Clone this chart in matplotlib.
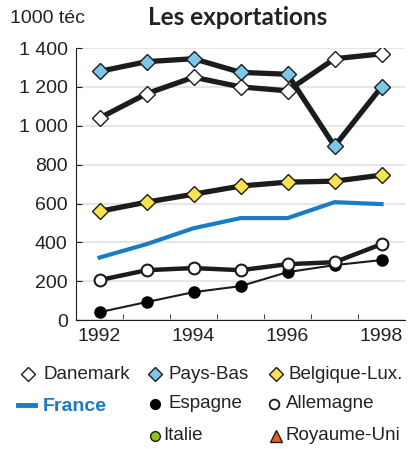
import matplotlib.pyplot as plt
from matplotlib.lines import Line2D

plt.rcParams['font.family'] = ['Liberation Sans', 'DejaVu Sans']

years = ["1992", "1993", "1994", "1995", "1996", "1997", "1998"]
danemark = [1040, 1165, 1250, 1200, 1180, 1345, 1370]
pays_bas = [1280, 1330, 1345, 1275, 1265, 895, 1200]
belgique = [560, 607, 648, 690, 710, 715, 746]
france = [322, 391, 473, 525, 525, 607, 597]
espagne = [41, 93, 144, 175, 247, 283, 309]
allemagne = [206, 257, 268, 257, 288, 298, 391]

dark = "#1c1c1c"
txt = "#222222"
blue = "#1a7cc4"

fig = plt.figure(figsize=(4.18, 4.49), dpi=100)
ax = fig.add_axes([0.182, 0.287, 0.787, 0.606])

x = range(len(years))
ax.plot(x, espagne, color=dark, lw=1.5, marker='o', ms=8, mfc='black', mec='black', zorder=3)
ax.plot(x, allemagne, color=dark, lw=3.2, marker='o', ms=8.5, mfc='white', mec=dark, mew=1.5, zorder=4)
ax.plot(x, france, color=blue, lw=3, zorder=3)
ax.plot(x, belgique, color=dark, lw=3.8, marker='D', ms=8, mfc='#f7e34f', mec=dark, mew=1, zorder=3)
ax.plot(x, danemark, color=dark, lw=3.8, marker='D', ms=8, mfc='white', mec=dark, mew=1, zorder=3)
ax.plot(x, pays_bas, color=dark, lw=3.8, marker='D', ms=8, mfc='#7cc6ea', mec=dark, mew=1, zorder=3)

ax.set_xlim(-0.5, 6.5)
ax.set_ylim(0, 1400)
ax.set_yticks(range(0, 1401, 200))
ax.set_yticklabels(["0", "200", "400", "600", "800", "1 000", "1 200", "1 400"])
ax.set_xticks(list(x))
ax.set_xticklabels([y if i % 2 == 0 else "" for i, y in enumerate(years)])
ax.set_xticks([i + 0.5 for i in range(6)], minor=True)
ax.tick_params(axis='x', which='major', length=0, labelsize=14, pad=6)
ax.tick_params(axis='x', which='minor', direction='in', length=4, color=dark)
ax.tick_params(axis='y', direction='in', length=4, labelsize=14, pad=6, color=dark)
for lbl in ax.get_yticklabels() + ax.get_xticklabels():
    lbl.set_color(txt)

ax.grid(axis='y', color='#e2e2e2', lw=1.2)
ax.set_axisbelow(True)
for s in ['top', 'right']:
    ax.spines[s].set_visible(False)
ax.spines['left'].set_color(dark)
ax.spines['bottom'].set_color(dark)

fig.text(0.025, 0.958, "1000 téc", fontsize=14, color=txt, va='center')
fig.text(0.569, 0.962, "Les exportations", fontsize=17.5, fontweight='bold',
         family=['Lato', 'DejaVu Sans'], color=txt, ha='center', va='center')

# legend, laid out by hand in three columns
keys = [
    ("Danemark", dict(marker='D', ms=7.5, mfc='white', mec=dark), 0.067, 0.103, 0.167),
    ("Pays-Bas", dict(marker='D', ms=7.5, mfc='#7cc6ea', mec=dark), 0.371, 0.402, 0.167),
    ("Belgique-Lux.", dict(marker='D', ms=7.5, mfc='#f7e34f', mec=dark), 0.660, 0.691, 0.167),
    ("Espagne", dict(marker='o', ms=7, mfc='black', mec='black'), 0.371, 0.402, 0.101),
    ("Allemagne", dict(marker='o', ms=7, mfc='white', mec=dark, mew=1.3), 0.655, 0.684, 0.101),
    ("Italie", dict(marker='o', ms=7, mfc='#8cc21f', mec=dark), 0.371, 0.390, 0.029),
    ("Royaume-Uni", dict(marker='^', ms=8, mfc='#e8601c', mec=dark), 0.660, 0.684, 0.029),
]
for label, style, mx, tx, ty in keys:
    fig.add_artist(Line2D([mx], [ty], transform=fig.transFigure, ls='none', **style))
    fig.text(tx, ty, label, fontsize=13.5, color=txt, va='center')

fig.add_artist(Line2D([0.043, 0.084], [0.098, 0.098], transform=fig.transFigure, color=blue, lw=3.5))
fig.text(0.103, 0.095, "France", fontsize=14, fontweight='bold', color=blue, va='center')

fig.savefig("out.png", dpi=100)
